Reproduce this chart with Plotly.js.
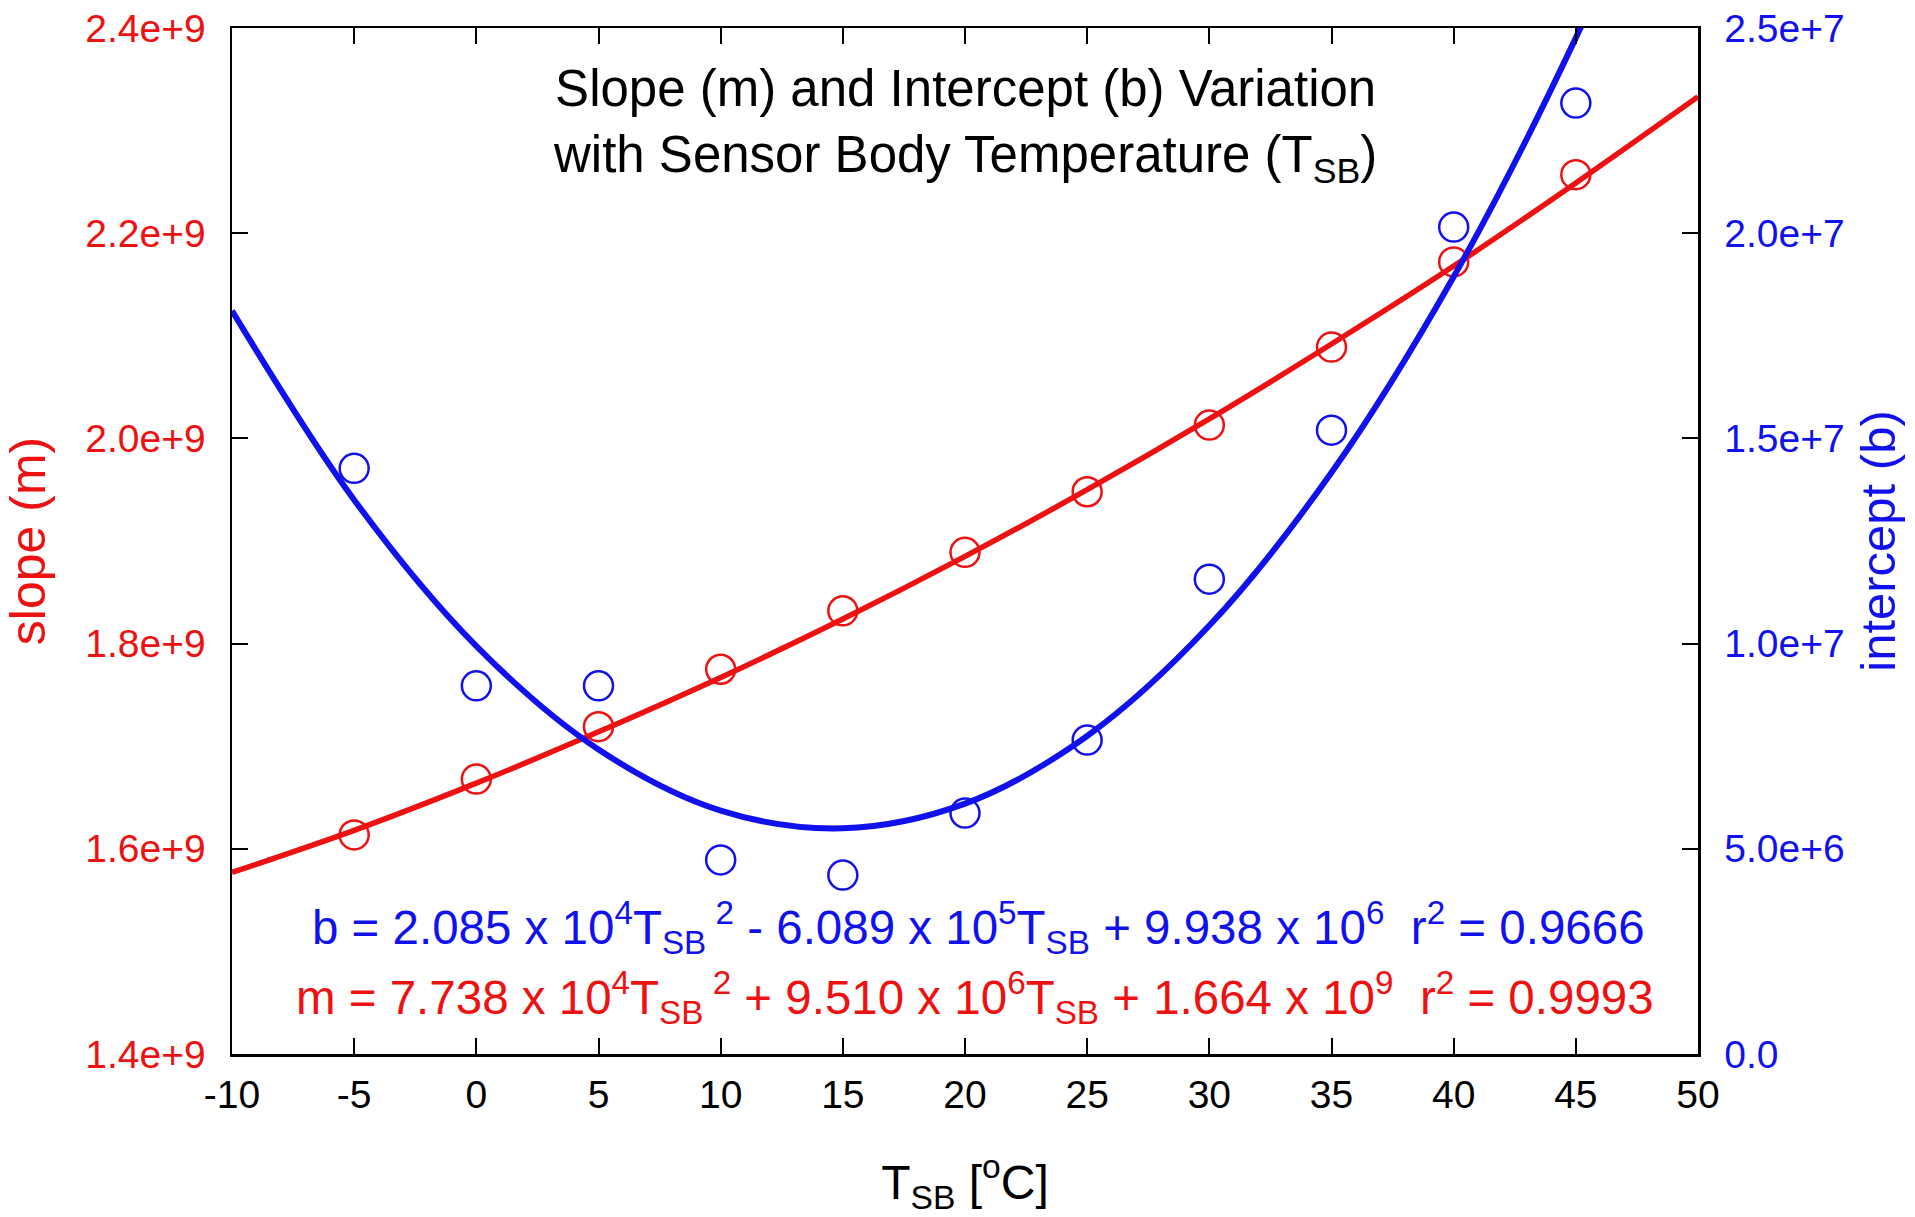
<!DOCTYPE html>
<html>
<head>
<meta charset="utf-8">
<script src="https://cdn.plot.ly/plotly-3.0.1.min.js"></script>
<style>
  html, body { margin: 0; padding: 0; background: #ffffff; }
  #chart { width: 1915px; height: 1217px; }
</style>
</head>
<body>
<div id="chart"></div>
<script>
// ---- data ----
const temps = [-5, 0, 5, 10, 15, 20, 25, 30, 35, 40, 45];
const slopeVals = [1.6135e9, 1.668e9, 1.719e9, 1.775e9, 1.832e9, 1.889e9, 1.948e9, 2.013e9, 2.089e9, 2.172e9, 2.257e9];
const interceptVals = [1.427e7, 8.97e6, 8.97e6, 4.73e6, 4.36e6, 5.87e6, 7.65e6, 1.157e7, 1.52e7, 2.015e7, 2.317e7];

const fitTemps = [-10, -5, 0, 5, 10, 15, 20, 25, 30, 35, 40, 45, 50];
const slopeFit = [1.577e9, 1.618e9, 1.664e9, 1.714e9, 1.767e9, 1.824e9, 1.885e9, 1.950e9, 2.019e9, 2.092e9, 2.168e9, 2.249e9, 2.333e9];
const interceptFit = [1.811e7, 1.350e7, 9.94e6, 7.42e6, 5.93e6, 5.50e6, 6.10e6, 7.75e6, 1.044e7, 1.417e7, 1.894e7, 2.476e7, 3.162e7];

const xTickVals = [-10, -5, 0, 5, 10, 15, 20, 25, 30, 35, 40, 45, 50];
const xTickText = ["-10", "-5", "0", "5", "10", "15", "20", "25", "30", "35", "40", "45", "50"];
const yTickVals = [1.4e9, 1.6e9, 1.8e9, 2.0e9, 2.2e9, 2.4e9];
const yTickText = ["1.4e+9", "1.6e+9", "1.8e+9", "2.0e+9", "2.2e+9", "2.4e+9"];
const y2TickVals = [0, 5e6, 1e7, 1.5e7, 2e7, 2.5e7];
const y2TickText = ["0.0", "5.0e+6", "1.0e+7", "1.5e+7", "2.0e+7", "2.5e+7"];

const titleText = "Slope (m) and Intercept (b) Variation<br>with Sensor Body Temperature (T<sub>SB</sub>)";
const eqB = "b = 2.085 x 10<sup>4</sup>T<sub>SB</sub><sup> 2</sup> - 6.089 x 10<sup>5</sup>T<sub>SB</sub> + 9.938 x 10<sup>6</sup>  r<sup>2</sup> = 0.9666";
const eqM = "m = 7.738 x 10<sup>4</sup>T<sub>SB</sub><sup> 2</sup> + 9.510 x 10<sup>6</sup>T<sub>SB</sub> + 1.664 x 10<sup>9</sup>  r<sup>2</sup> = 0.9993";

// ---- styling ----
const RED = "#ee1111";
const BLUE = "#1111ee";
const FONT = "Liberation Sans, Arial, sans-serif";

const traces = [
  {
    x: fitTemps, y: slopeFit, type: "scatter", mode: "lines",
    line: { color: RED, width: 5.5, shape: "spline" },
    xaxis: "x", yaxis: "y", hoverinfo: "skip", showlegend: false
  },
  {
    x: temps, y: slopeVals, type: "scatter", mode: "markers",
    marker: { symbol: "circle-open", size: 29, color: RED, line: { color: RED, width: 2.5 } },
    xaxis: "x", yaxis: "y", showlegend: false
  },
  {
    x: fitTemps, y: interceptFit, type: "scatter", mode: "lines",
    line: { color: BLUE, width: 6, shape: "spline" },
    xaxis: "x", yaxis: "y2", hoverinfo: "skip", showlegend: false
  },
  {
    x: temps, y: interceptVals, type: "scatter", mode: "markers",
    marker: { symbol: "circle-open", size: 29, color: BLUE, line: { color: BLUE, width: 2.5 } },
    xaxis: "x", yaxis: "y2", showlegend: false
  }
];

const layout = {
  width: 1915, height: 1217,
  margin: { l: 232, r: 217, t: 28, b: 163, pad: 0 },
  paper_bgcolor: "#ffffff", plot_bgcolor: "#ffffff",
  font: { family: FONT, color: "#000000" },
  showlegend: false,
  xaxis: {
    range: [-10, 50], showgrid: false, zeroline: false,
    showline: true, linecolor: "#000000", linewidth: 2.5, mirror: "ticks",
    ticks: "inside", ticklen: 16, tickwidth: 2, tickcolor: "#000000",
    tickvals: xTickVals, ticktext: xTickText,
    tickfont: { family: FONT, size: 39, color: "#000000" },
    ticklabelstandoff: 5,
    title: { text: "T<sub>SB</sub> [<sup>o</sup>C]", font: { family: FONT, size: 48, color: "#000000" }, standoff: 50 },
    automargin: false
  },
  yaxis: {
    range: [1.4e9, 2.4e9], showgrid: false, zeroline: false,
    showline: true, linecolor: "#000000", linewidth: 2.5,
    ticks: "inside", ticklen: 16, tickwidth: 2, tickcolor: "#000000",
    tickvals: yTickVals, ticktext: yTickText,
    tickfont: { family: FONT, size: 39, color: RED },
    ticklabelstandoff: 16,
    title: { text: "slope (m)", font: { family: FONT, size: 50, color: RED }, standoff: 24 },
    automargin: false
  },
  yaxis2: {
    range: [0, 2.5e7], overlaying: "y", side: "right",
    showgrid: false, zeroline: false,
    showline: true, linecolor: "#000000", linewidth: 2.5,
    ticks: "inside", ticklen: 16, tickwidth: 2, tickcolor: "#000000",
    tickvals: y2TickVals, ticktext: y2TickText,
    tickfont: { family: FONT, size: 39, color: BLUE },
    ticklabelstandoff: 16,
    title: { text: "intercept (b)", font: { family: FONT, size: 49, color: BLUE }, standoff: 17 },
    automargin: false
  },
  annotations: [
    {
      text: titleText, xref: "paper", yref: "paper", x: 0.5, y: 0.905,
      xanchor: "center", yanchor: "middle", showarrow: false, align: "center",
      font: { family: FONT, size: 51, color: "#000000" }
    },
    {
      text: eqB, xref: "paper", yref: "paper", x: 0.5095, y: 0.123,
      xanchor: "center", yanchor: "middle", showarrow: false,
      font: { family: FONT, size: 47.5, color: BLUE }
    },
    {
      text: eqM, xref: "paper", yref: "paper", x: 0.5065, y: 0.055,
      xanchor: "center", yanchor: "middle", showarrow: false,
      font: { family: FONT, size: 47.5, color: RED }
    }
  ]
};

Plotly.newPlot("chart", traces, layout, { displayModeBar: false, staticPlot: true });
</script>
</body>
</html>
